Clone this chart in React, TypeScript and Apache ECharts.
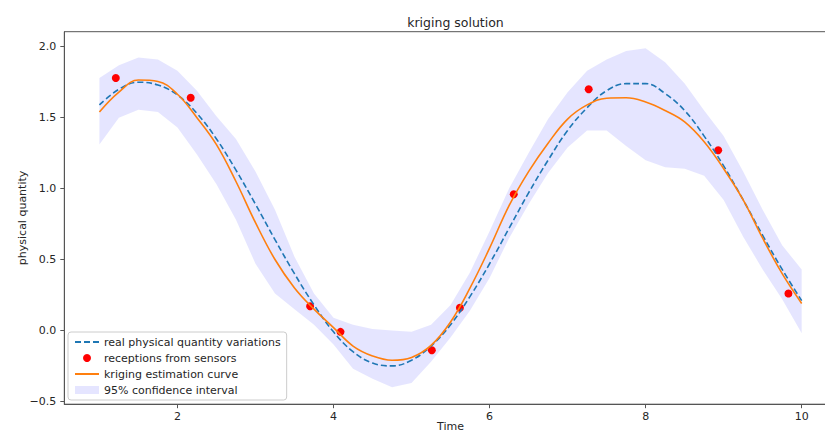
import React, { useEffect, useRef } from "react";
import * as echarts from "echarts";

// sample positions along the time axis
const xs = [
  1.0, 1.25, 1.5, 1.75, 2.0, 2.25, 2.5, 2.75, 3.0, 3.25, 3.5, 3.75, 4.0, 4.25, 4.5, 4.75,
  5.0, 5.25, 5.5, 5.75, 6.0, 6.25, 6.5, 6.75, 7.0, 7.25, 7.5, 7.75, 8.0, 8.25, 8.5, 8.75,
  9.0, 9.25, 9.5, 9.75, 10.0,
];

// real physical quantity variations (dashed blue)
const realValues = [
  1.59, 1.7, 1.75, 1.73, 1.66, 1.53, 1.35, 1.13, 0.89, 0.64, 0.4, 0.18, -0.01, -0.15, -0.23, -0.25,
  -0.21, -0.11, 0.04, 0.24, 0.47, 0.72, 0.97, 1.2, 1.41, 1.57, 1.69, 1.74, 1.74, 1.67, 1.55, 1.37,
  1.16, 0.92, 0.67, 0.43, 0.21,
];

// kriging estimation curve (orange)
const krigingValues = [
  1.54, 1.68, 1.765, 1.755, 1.665, 1.5, 1.31, 1.05, 0.76, 0.5, 0.3, 0.15, 0.02, -0.11, -0.18, -0.21,
  -0.19, -0.105, 0.06, 0.3, 0.58, 0.88, 1.12, 1.32, 1.49, 1.59, 1.637, 1.64, 1.61, 1.55, 1.47, 1.33,
  1.14, 0.92, 0.65, 0.4, 0.19,
];

// 95% confidence interval bounds
const upperBound = [
  1.78, 1.87, 1.925, 1.91, 1.83, 1.69, 1.51, 1.35, 1.12, 0.85, 0.52, 0.26, 0.09, 0.04, 0.01, 0.0,
  -0.01, 0.04, 0.18, 0.41, 0.7, 1.0, 1.25, 1.49, 1.68, 1.83, 1.91, 1.97, 1.99, 1.89, 1.74, 1.55,
  1.37, 1.12, 0.85, 0.6, 0.43,
];
const lowerBound = [
  1.31, 1.5, 1.555, 1.54, 1.43, 1.24, 1.03, 0.78, 0.47, 0.26, 0.15, 0.04, -0.1, -0.27, -0.34, -0.4,
  -0.37, -0.22, -0.05, 0.14, 0.37, 0.65, 0.89, 1.11, 1.29, 1.41, 1.41, 1.3, 1.2, 1.15, 1.14, 1.09,
  0.92, 0.66, 0.43, 0.22, -0.02,
];

// receptions from sensors (red dots)
const sensorX = [1.21, 2.17, 3.7, 4.09, 5.26, 5.62, 6.31, 7.27, 8.93, 9.83];
const sensorY = [1.78, 1.64, 0.17, -0.01, -0.14, 0.16, 0.96, 1.7, 1.27, 0.26];

const xTicks = [2, 4, 6, 8, 10];
const yTicks = [-0.5, 0, 0.5, 1, 1.5, 2];

const FONT = "DejaVu Sans";
const TXT = "#262626";
const SPINE = "#555555";

const NAME_REAL = "real physical quantity variations";
const NAME_SENS = "receptions from sensors";
const NAME_KRIG = "kriging estimation curve";
const NAME_CI = "95% confidence interval";

export default function App() {
  const ref = useRef<HTMLDivElement>(null);

  useEffect(() => {
    if (!ref.current) return;
    const chart = echarts.init(ref.current, undefined, { renderer: "svg" });

    const option: any = {
      animation: false,
      backgroundColor: "#ffffff",
      title: {
        text: "kriging solution",
        left: 450.5,
        top: 11,
        textAlign: "center",
        textStyle: { fontFamily: FONT, fontSize: 12.5, fontWeight: "normal", color: TXT },
      },
      grid: {
        left: 64.3,
        top: 31.7,
        right: -11.8,
        bottom: 28.8,
        containLabel: false,
        outerBoundsMode: "none",
        show: true,
        borderColor: SPINE,
        borderWidth: 1,
        backgroundColor: "transparent",
      },
      legend: {
        orient: "vertical",
        left: 68,
        top: 332,
        padding: [3, 6, 3, 6],
        itemWidth: 24,
        itemHeight: 8,
        itemGap: 2,
        backgroundColor: "rgba(255,255,255,0.85)",
        borderColor: "#cccccc",
        borderWidth: 1,
        borderRadius: 3,
        textStyle: { fontFamily: FONT, fontSize: 11, color: TXT, lineHeight: 14 },
        data: [
          { name: NAME_REAL, itemStyle: { opacity: 0 } },
          { name: NAME_SENS, icon: "circle", itemStyle: { opacity: 1 } },
          { name: NAME_KRIG, itemStyle: { opacity: 0 } },
          { name: NAME_CI, icon: "rect", itemStyle: { color: "rgba(0,0,255,0.1)" } },
        ],
      },
      xAxis: {
        type: "value",
        min: 0.55,
        max: 10.45,
        name: "Time",
        nameLocation: "middle",
        nameGap: 17,
        nameMoveOverlap: false,
        nameTextStyle: { fontFamily: FONT, fontSize: 11, color: TXT },
        axisLine: { show: true, onZero: false, lineStyle: { color: SPINE, width: 1 } },
        axisTick: { show: true, inside: false, length: 4, customValues: xTicks, lineStyle: { color: SPINE } },
        axisLabel: {
          customValues: xTicks,
          margin: 7,
          fontFamily: FONT,
          fontSize: 11,
          color: TXT,
          formatter: (v: number) => String(v),
        },
        splitLine: { show: false },
      },
      yAxis: {
        type: "value",
        min: -0.52,
        max: 2.106,
        name: "physical quantity",
        nameLocation: "middle",
        nameGap: 36,
        nameMoveOverlap: false,
        nameTextStyle: { fontFamily: FONT, fontSize: 11, color: TXT },
        axisLine: { show: true, onZero: false, lineStyle: { color: SPINE, width: 1 } },
        axisTick: { show: true, inside: false, length: 4, customValues: yTicks, lineStyle: { color: SPINE } },
        axisLabel: {
          customValues: yTicks,
          margin: 8,
          fontFamily: FONT,
          fontSize: 11,
          color: TXT,
          formatter: (v: number) => v.toFixed(1).replace("-", "\u2212"),
        },
        splitLine: { show: false },
      },
      series: [
        {
          type: "custom",
          name: NAME_CI,
          data: xs.map((x, i) => [x, lowerBound[i], upperBound[i]]),
          encode: { x: 0, y: [1, 2] },
          itemStyle: { color: "rgba(0,0,255,0.1)" },
          clip: true,
          silent: true,
          renderItem: (params: any, api: any) => {
            if (params.dataIndex !== 0) return null;
            const top = xs.map((x, i) => api.coord([x, upperBound[i]]));
            const bottom = xs.map((x, i) => api.coord([x, lowerBound[i]])).reverse();
            return {
              type: "polygon",
              shape: { points: top.concat(bottom) },
              style: { fill: "rgba(0,0,255,0.1)", stroke: "none" },
            };
          },
        },
        {
          type: "line",
          name: NAME_REAL,
          data: xs.map((x, i) => [x, realValues[i]]),
          smooth: 0.4,
          symbol: "none",
          lineStyle: { color: "#1f77b4", width: 1.6, type: [6, 3] },
          itemStyle: { color: "#1f77b4" },
        },
        {
          type: "scatter",
          name: NAME_SENS,
          data: sensorX.map((x, i) => [x, sensorY[i]]),
          symbol: "circle",
          symbolSize: 8,
          itemStyle: { color: "#ff0000", opacity: 1 },
        },
        {
          type: "line",
          name: NAME_KRIG,
          data: xs.map((x, i) => [x, krigingValues[i]]),
          smooth: 0.4,
          symbol: "none",
          lineStyle: { color: "#ff7f0e", width: 1.6 },
          itemStyle: { color: "#ff7f0e" },
        },
      ],
    };

    chart.setOption(option);
    return () => {
      chart.dispose();
    };
  }, []);

  return (
    <div
      ref={ref}
      style={{ position: "absolute", left: 0, top: 0, width: 825, height: 433, background: "#fff" }}
    />
  );
}
